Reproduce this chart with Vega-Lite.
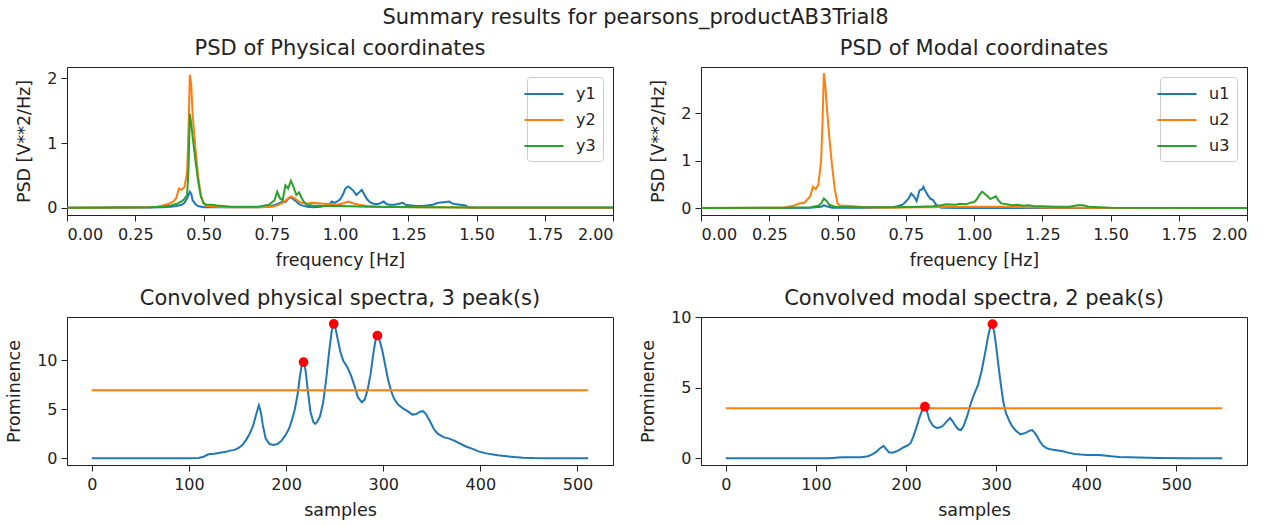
{
  "$schema": "https://vega.github.io/schema/vega-lite/v6.json",
  "background": "white",
  "padding": {"left": 5, "top": 7, "right": 5, "bottom": 5},
  "title": {"text": "Summary results for pearsons_productAB3Trial8", "fontSize": 21, "fontWeight": "normal", "anchor": "middle", "color": "#222", "offset": 9.5, "dx": 9},
  "config": {
    "font": "DejaVu Sans",
    "view": {"stroke": "#222", "strokeWidth": 1},
    "axis": {"grid": false, "domainColor": "#222", "tickColor": "#222", "labelColor": "#222", "titleColor": "#222", "labelFontSize": 16, "titleFontSize": 17.5, "titleFontWeight": "normal", "tickSize": 6, "labelPadding": 4, "labelFont": "DejaVu Sans", "titleFont": "DejaVu Sans"},
    "axisX": {"titlePadding": 9, "labelPadding": 5},
    "axisY": {"titlePadding": 13},
    "title": {"fontSize": 21, "fontWeight": "normal", "color": "#222", "font": "DejaVu Sans", "offset": 8},
    "legend": {"orient": "top-right", "offset": 10, "padding": 7, "strokeColor": "#cccccc", "fillColor": "rgba(255,255,255,0.85)", "cornerRadius": 3, "symbolType": "M-2.17,0H2.17", "symbolSize": 324, "symbolStrokeWidth": 2, "labelFontSize": 16, "labelColor": "#222", "labelOffset": 22, "rowPadding": 8, "title": null}
  },
  "datasets": {
    "phys": [
      {"c":"y1","f":0,"v":0.005},{"c":"y1","f":0.1,"v":0.005},{"c":"y1","f":0.2,"v":0.006},{"c":"y1","f":0.3,"v":0.008},{"c":"y1","f":0.35,"v":0.01},{"c":"y1","f":0.38,"v":0.02},{"c":"y1","f":0.4,"v":0.03},{"c":"y1","f":0.42,"v":0.05},{"c":"y1","f":0.43,"v":0.08},{"c":"y1","f":0.44,"v":0.15},{"c":"y1","f":0.45,"v":0.25},{"c":"y1","f":0.455,"v":0.22},{"c":"y1","f":0.46,"v":0.12},{"c":"y1","f":0.47,"v":0.06},{"c":"y1","f":0.48,"v":0.03},{"c":"y1","f":0.5,"v":0.01},{"c":"y1","f":0.55,"v":0.01},{"c":"y1","f":0.6,"v":0.01},{"c":"y1","f":0.65,"v":0.01},{"c":"y1","f":0.7,"v":0.01},{"c":"y1","f":0.74,"v":0.02},{"c":"y1","f":0.77,"v":0.06},{"c":"y1","f":0.79,"v":0.1},{"c":"y1","f":0.8,"v":0.09},{"c":"y1","f":0.81,"v":0.14},{"c":"y1","f":0.82,"v":0.17},{"c":"y1","f":0.83,"v":0.13},{"c":"y1","f":0.84,"v":0.1},{"c":"y1","f":0.85,"v":0.06},{"c":"y1","f":0.86,"v":0.04},{"c":"y1","f":0.88,"v":0.02},{"c":"y1","f":0.9,"v":0.01},{"c":"y1","f":0.93,"v":0.02},{"c":"y1","f":0.96,"v":0.05},{"c":"y1","f":0.97,"v":0.1},{"c":"y1","f":0.98,"v":0.08},{"c":"y1","f":0.99,"v":0.1},{"c":"y1","f":1.0,"v":0.13},{"c":"y1","f":1.01,"v":0.2},{"c":"y1","f":1.02,"v":0.3},{"c":"y1","f":1.03,"v":0.33},{"c":"y1","f":1.04,"v":0.3},{"c":"y1","f":1.05,"v":0.26},{"c":"y1","f":1.06,"v":0.2},{"c":"y1","f":1.07,"v":0.24},{"c":"y1","f":1.08,"v":0.28},{"c":"y1","f":1.09,"v":0.2},{"c":"y1","f":1.1,"v":0.13},{"c":"y1","f":1.11,"v":0.09},{"c":"y1","f":1.12,"v":0.07},{"c":"y1","f":1.13,"v":0.06},{"c":"y1","f":1.14,"v":0.06},{"c":"y1","f":1.16,"v":0.1},{"c":"y1","f":1.17,"v":0.06},{"c":"y1","f":1.18,"v":0.05},{"c":"y1","f":1.2,"v":0.05},{"c":"y1","f":1.22,"v":0.07},{"c":"y1","f":1.23,"v":0.08},{"c":"y1","f":1.24,"v":0.05},{"c":"y1","f":1.26,"v":0.04},{"c":"y1","f":1.28,"v":0.03},{"c":"y1","f":1.3,"v":0.03},{"c":"y1","f":1.32,"v":0.04},{"c":"y1","f":1.34,"v":0.05},{"c":"y1","f":1.36,"v":0.08},{"c":"y1","f":1.38,"v":0.09},{"c":"y1","f":1.4,"v":0.1},{"c":"y1","f":1.41,"v":0.07},{"c":"y1","f":1.42,"v":0.06},{"c":"y1","f":1.44,"v":0.05},{"c":"y1","f":1.46,"v":0.04},{"c":"y1","f":1.47,"v":0.01},{"c":"y1","f":1.5,"v":0.005},{"c":"y1","f":1.6,"v":0.004},{"c":"y1","f":1.8,"v":0.004},{"c":"y1","f":2.0,"v":0.004},
      {"c":"y2","f":0,"v":0.005},{"c":"y2","f":0.2,"v":0.006},{"c":"y2","f":0.3,"v":0.01},{"c":"y2","f":0.33,"v":0.02},{"c":"y2","f":0.35,"v":0.04},{"c":"y2","f":0.37,"v":0.06},{"c":"y2","f":0.39,"v":0.1},{"c":"y2","f":0.4,"v":0.15},{"c":"y2","f":0.41,"v":0.3},{"c":"y2","f":0.42,"v":0.28},{"c":"y2","f":0.43,"v":0.32},{"c":"y2","f":0.44,"v":0.55},{"c":"y2","f":0.445,"v":1.2},{"c":"y2","f":0.45,"v":2.05},{"c":"y2","f":0.455,"v":1.9},{"c":"y2","f":0.46,"v":1.45},{"c":"y2","f":0.47,"v":0.95},{"c":"y2","f":0.48,"v":0.5},{"c":"y2","f":0.49,"v":0.2},{"c":"y2","f":0.5,"v":0.07},{"c":"y2","f":0.51,"v":0.03},{"c":"y2","f":0.55,"v":0.02},{"c":"y2","f":0.6,"v":0.01},{"c":"y2","f":0.65,"v":0.01},{"c":"y2","f":0.7,"v":0.01},{"c":"y2","f":0.75,"v":0.02},{"c":"y2","f":0.77,"v":0.04},{"c":"y2","f":0.79,"v":0.08},{"c":"y2","f":0.8,"v":0.11},{"c":"y2","f":0.81,"v":0.15},{"c":"y2","f":0.82,"v":0.18},{"c":"y2","f":0.83,"v":0.16},{"c":"y2","f":0.84,"v":0.13},{"c":"y2","f":0.85,"v":0.1},{"c":"y2","f":0.86,"v":0.08},{"c":"y2","f":0.88,"v":0.07},{"c":"y2","f":0.9,"v":0.08},{"c":"y2","f":0.93,"v":0.07},{"c":"y2","f":0.96,"v":0.06},{"c":"y2","f":0.99,"v":0.05},{"c":"y2","f":1.01,"v":0.07},{"c":"y2","f":1.03,"v":0.1},{"c":"y2","f":1.05,"v":0.07},{"c":"y2","f":1.07,"v":0.05},{"c":"y2","f":1.1,"v":0.03},{"c":"y2","f":1.15,"v":0.02},{"c":"y2","f":1.2,"v":0.015},{"c":"y2","f":1.3,"v":0.01},{"c":"y2","f":1.4,"v":0.01},{"c":"y2","f":1.5,"v":0.005},{"c":"y2","f":2.0,"v":0.004},
      {"c":"y3","f":0,"v":0.005},{"c":"y3","f":0.2,"v":0.006},{"c":"y3","f":0.3,"v":0.01},{"c":"y3","f":0.35,"v":0.02},{"c":"y3","f":0.38,"v":0.04},{"c":"y3","f":0.4,"v":0.06},{"c":"y3","f":0.42,"v":0.1},{"c":"y3","f":0.43,"v":0.14},{"c":"y3","f":0.44,"v":0.2},{"c":"y3","f":0.445,"v":0.6},{"c":"y3","f":0.45,"v":1.45},{"c":"y3","f":0.455,"v":1.3},{"c":"y3","f":0.46,"v":1.1},{"c":"y3","f":0.47,"v":0.75},{"c":"y3","f":0.48,"v":0.42},{"c":"y3","f":0.49,"v":0.18},{"c":"y3","f":0.5,"v":0.08},{"c":"y3","f":0.51,"v":0.05},{"c":"y3","f":0.53,"v":0.05},{"c":"y3","f":0.55,"v":0.04},{"c":"y3","f":0.6,"v":0.02},{"c":"y3","f":0.65,"v":0.02},{"c":"y3","f":0.7,"v":0.02},{"c":"y3","f":0.74,"v":0.05},{"c":"y3","f":0.76,"v":0.12},{"c":"y3","f":0.77,"v":0.25},{"c":"y3","f":0.78,"v":0.15},{"c":"y3","f":0.79,"v":0.12},{"c":"y3","f":0.8,"v":0.35},{"c":"y3","f":0.81,"v":0.3},{"c":"y3","f":0.82,"v":0.42},{"c":"y3","f":0.83,"v":0.32},{"c":"y3","f":0.84,"v":0.2},{"c":"y3","f":0.85,"v":0.24},{"c":"y3","f":0.86,"v":0.15},{"c":"y3","f":0.87,"v":0.08},{"c":"y3","f":0.88,"v":0.05},{"c":"y3","f":0.9,"v":0.04},{"c":"y3","f":0.95,"v":0.03},{"c":"y3","f":1.0,"v":0.03},{"c":"y3","f":1.1,"v":0.02},{"c":"y3","f":1.2,"v":0.015},{"c":"y3","f":1.3,"v":0.01},{"c":"y3","f":1.5,"v":0.008},{"c":"y3","f":2.0,"v":0.006}
    ],
    "modal": [
      {"c":"u1","f":0,"v":0.005},{"c":"u1","f":0.3,"v":0.005},{"c":"u1","f":0.4,"v":0.01},{"c":"u1","f":0.44,"v":0.03},{"c":"u1","f":0.45,"v":0.06},{"c":"u1","f":0.46,"v":0.04},{"c":"u1","f":0.48,"v":0.01},{"c":"u1","f":0.6,"v":0.01},{"c":"u1","f":0.7,"v":0.02},{"c":"u1","f":0.72,"v":0.04},{"c":"u1","f":0.74,"v":0.08},{"c":"u1","f":0.76,"v":0.2},{"c":"u1","f":0.77,"v":0.31},{"c":"u1","f":0.78,"v":0.25},{"c":"u1","f":0.79,"v":0.15},{"c":"u1","f":0.8,"v":0.37},{"c":"u1","f":0.81,"v":0.4},{"c":"u1","f":0.815,"v":0.45},{"c":"u1","f":0.82,"v":0.38},{"c":"u1","f":0.83,"v":0.28},{"c":"u1","f":0.84,"v":0.2},{"c":"u1","f":0.85,"v":0.17},{"c":"u1","f":0.86,"v":0.08},{"c":"u1","f":0.87,"v":0.03},{"c":"u1","f":0.88,"v":0.01},{"c":"u1","f":0.95,"v":0.005},{"c":"u1","f":2.0,"v":0.004},
      {"c":"u2","f":0,"v":0.005},{"c":"u2","f":0.3,"v":0.01},{"c":"u2","f":0.32,"v":0.03},{"c":"u2","f":0.34,"v":0.05},{"c":"u2","f":0.36,"v":0.1},{"c":"u2","f":0.38,"v":0.12},{"c":"u2","f":0.4,"v":0.25},{"c":"u2","f":0.41,"v":0.45},{"c":"u2","f":0.42,"v":0.4},{"c":"u2","f":0.43,"v":0.5},{"c":"u2","f":0.44,"v":1.0},{"c":"u2","f":0.445,"v":1.8},{"c":"u2","f":0.45,"v":2.85},{"c":"u2","f":0.455,"v":2.6},{"c":"u2","f":0.46,"v":2.2},{"c":"u2","f":0.47,"v":1.5},{"c":"u2","f":0.48,"v":0.9},{"c":"u2","f":0.49,"v":0.4},{"c":"u2","f":0.5,"v":0.1},{"c":"u2","f":0.51,"v":0.05},{"c":"u2","f":0.53,"v":0.05},{"c":"u2","f":0.56,"v":0.04},{"c":"u2","f":0.6,"v":0.02},{"c":"u2","f":0.7,"v":0.01},{"c":"u2","f":0.8,"v":0.02},{"c":"u2","f":0.85,"v":0.02},{"c":"u2","f":0.9,"v":0.03},{"c":"u2","f":1.0,"v":0.03},{"c":"u2","f":1.1,"v":0.03},{"c":"u2","f":1.2,"v":0.02},{"c":"u2","f":1.3,"v":0.01},{"c":"u2","f":1.4,"v":0.01},{"c":"u2","f":1.5,"v":0.005},{"c":"u2","f":2.0,"v":0.004},
      {"c":"u3","f":0,"v":0.005},{"c":"u3","f":0.3,"v":0.006},{"c":"u3","f":0.4,"v":0.02},{"c":"u3","f":0.43,"v":0.05},{"c":"u3","f":0.44,"v":0.1},{"c":"u3","f":0.45,"v":0.2},{"c":"u3","f":0.46,"v":0.15},{"c":"u3","f":0.47,"v":0.07},{"c":"u3","f":0.49,"v":0.03},{"c":"u3","f":0.55,"v":0.02},{"c":"u3","f":0.7,"v":0.02},{"c":"u3","f":0.8,"v":0.03},{"c":"u3","f":0.85,"v":0.04},{"c":"u3","f":0.88,"v":0.06},{"c":"u3","f":0.9,"v":0.08},{"c":"u3","f":0.93,"v":0.07},{"c":"u3","f":0.95,"v":0.09},{"c":"u3","f":0.97,"v":0.08},{"c":"u3","f":0.99,"v":0.12},{"c":"u3","f":1.0,"v":0.13},{"c":"u3","f":1.01,"v":0.18},{"c":"u3","f":1.02,"v":0.28},{"c":"u3","f":1.03,"v":0.35},{"c":"u3","f":1.04,"v":0.3},{"c":"u3","f":1.05,"v":0.25},{"c":"u3","f":1.06,"v":0.19},{"c":"u3","f":1.07,"v":0.22},{"c":"u3","f":1.08,"v":0.25},{"c":"u3","f":1.09,"v":0.16},{"c":"u3","f":1.1,"v":0.1},{"c":"u3","f":1.12,"v":0.08},{"c":"u3","f":1.14,"v":0.06},{"c":"u3","f":1.16,"v":0.07},{"c":"u3","f":1.18,"v":0.05},{"c":"u3","f":1.2,"v":0.06},{"c":"u3","f":1.22,"v":0.04},{"c":"u3","f":1.25,"v":0.04},{"c":"u3","f":1.3,"v":0.03},{"c":"u3","f":1.35,"v":0.03},{"c":"u3","f":1.38,"v":0.06},{"c":"u3","f":1.4,"v":0.06},{"c":"u3","f":1.42,"v":0.03},{"c":"u3","f":1.5,"v":0.01},{"c":"u3","f":2.0,"v":0.005}
    ],
    "convp": [
      {"s":0,"v":0},{"s":50,"v":0},{"s":100,"v":0},{"s":110,"v":0.02},{"s":115,"v":0.15},{"s":120,"v":0.4},{"s":126,"v":0.45},{"s":132,"v":0.55},{"s":138,"v":0.65},{"s":141,"v":0.75},{"s":147,"v":0.85},{"s":151,"v":1.05},{"s":155,"v":1.35},{"s":159,"v":1.9},{"s":162,"v":2.4},{"s":166,"v":3.3},{"s":169,"v":4.4},{"s":172,"v":5.4},{"s":174,"v":4.7},{"s":176,"v":3.4},{"s":179,"v":2.0},{"s":183,"v":1.45},{"s":187,"v":1.35},{"s":191,"v":1.45},{"s":195,"v":1.75},{"s":199,"v":2.3},{"s":203,"v":3.0},{"s":206,"v":3.9},{"s":209,"v":5.0},{"s":212,"v":6.6},{"s":214,"v":8.2},{"s":216,"v":9.4},{"s":218,"v":9.8},{"s":220,"v":9.0},{"s":222,"v":7.2},{"s":225,"v":4.8},{"s":228,"v":3.7},{"s":230,"v":3.5},{"s":232,"v":3.7},{"s":235,"v":4.3},{"s":238,"v":5.6},{"s":241,"v":7.8},{"s":244,"v":10.6},{"s":247,"v":13.0},{"s":249,"v":13.7},{"s":251,"v":13.2},{"s":253,"v":12.2},{"s":256,"v":10.8},{"s":259,"v":9.9},{"s":263,"v":9.3},{"s":267,"v":8.4},{"s":271,"v":7.2},{"s":274,"v":6.2},{"s":278,"v":5.7},{"s":281,"v":6.0},{"s":284,"v":7.0},{"s":287,"v":8.6},{"s":290,"v":10.8},{"s":292,"v":12.0},{"s":294,"v":12.5},{"s":296,"v":12.1},{"s":299,"v":11.0},{"s":302,"v":9.5},{"s":305,"v":8.0},{"s":308,"v":6.9},{"s":311,"v":6.1},{"s":315,"v":5.5},{"s":320,"v":5.1},{"s":325,"v":4.8},{"s":330,"v":4.45},{"s":334,"v":4.5},{"s":338,"v":4.75},{"s":341,"v":4.8},{"s":344,"v":4.5},{"s":348,"v":3.8},{"s":352,"v":3.0},{"s":356,"v":2.5},{"s":362,"v":2.15},{"s":368,"v":2.0},{"s":373,"v":1.8},{"s":380,"v":1.45},{"s":385,"v":1.2},{"s":392,"v":0.95},{"s":398,"v":0.7},{"s":405,"v":0.52},{"s":410,"v":0.42},{"s":418,"v":0.3},{"s":427,"v":0.2},{"s":435,"v":0.12},{"s":444,"v":0.06},{"s":455,"v":0.02},{"s":470,"v":0.01},{"s":490,"v":0},{"s":511,"v":0}
    ],
    "convm": [
      {"s":0,"v":0},{"s":60,"v":0},{"s":115,"v":0},{"s":125,"v":0.06},{"s":130,"v":0.08},{"s":140,"v":0.07},{"s":150,"v":0.08},{"s":158,"v":0.15},{"s":163,"v":0.3},{"s":167,"v":0.45},{"s":171,"v":0.7},{"s":175,"v":0.88},{"s":178,"v":0.65},{"s":181,"v":0.43},{"s":185,"v":0.4},{"s":189,"v":0.48},{"s":194,"v":0.65},{"s":198,"v":0.8},{"s":202,"v":0.92},{"s":205,"v":1.07},{"s":208,"v":1.5},{"s":212,"v":2.26},{"s":215,"v":2.9},{"s":218,"v":3.4},{"s":221,"v":3.65},{"s":223,"v":3.4},{"s":226,"v":2.7},{"s":230,"v":2.3},{"s":234,"v":2.15},{"s":238,"v":2.2},{"s":241,"v":2.3},{"s":245,"v":2.6},{"s":249,"v":2.85},{"s":252,"v":2.6},{"s":255,"v":2.3},{"s":258,"v":2.05},{"s":261,"v":2.0},{"s":264,"v":2.3},{"s":268,"v":3.0},{"s":272,"v":3.9},{"s":276,"v":4.6},{"s":280,"v":5.2},{"s":284,"v":6.2},{"s":288,"v":7.5},{"s":291,"v":8.6},{"s":294,"v":9.4},{"s":296,"v":9.5},{"s":298,"v":8.9},{"s":300,"v":8.0},{"s":302,"v":6.9},{"s":305,"v":5.35},{"s":308,"v":4.0},{"s":311,"v":3.2},{"s":315,"v":2.6},{"s":318,"v":2.26},{"s":322,"v":1.95},{"s":327,"v":1.7},{"s":333,"v":1.8},{"s":337,"v":1.95},{"s":340,"v":2.0},{"s":343,"v":1.8},{"s":346,"v":1.5},{"s":349,"v":1.15},{"s":352,"v":0.9},{"s":356,"v":0.72},{"s":360,"v":0.64},{"s":367,"v":0.57},{"s":374,"v":0.5},{"s":380,"v":0.4},{"s":387,"v":0.31},{"s":394,"v":0.27},{"s":401,"v":0.24},{"s":408,"v":0.23},{"s":414,"v":0.24},{"s":420,"v":0.2},{"s":428,"v":0.14},{"s":437,"v":0.1},{"s":448,"v":0.07},{"s":459,"v":0.05},{"s":480,"v":0.02},{"s":510,"v":0.01},{"s":551,"v":0}
    ],
    "thrp": [{"s":0,"t":6.93},{"s":511,"t":6.93}],
    "thrm": [{"s":0,"t":3.55},{"s":551,"t":3.55}],
    "pkp": [{"s":218,"v":9.8},{"s":249,"v":13.7},{"s":294,"v":12.5}],
    "pkm": [{"s":221,"v":3.65},{"s":296,"v":9.5}]
  },
  "columns": 2,
  "spacing": {"row": 102, "column": 88},
  "bounds": "flush",
  "resolve": {"scale": {"color": "independent"}, "legend": {"color": "independent"}},
  "concat": [
    {
      "width": 546, "height": 148,
      "title": "PSD of Physical coordinates",
      "data": {"name": "phys"},
      "mark": {"type": "line", "strokeWidth": 2, "clip": true},
      "encoding": {
        "x": {"field": "f", "type": "quantitative", "scale": {"domain": [0, 2], "nice": false, "zero": false}, "axis": {"title": "frequency [Hz]", "values": [0, 0.25, 0.5, 0.75, 1, 1.25, 1.5, 1.75, 2], "format": ".2f"}},
        "y": {"field": "v", "type": "quantitative", "scale": {"domain": [-0.108, 2.17], "nice": false, "zero": false}, "axis": {"title": "PSD [V**2/Hz]", "values": [0, 1, 2]}},
        "color": {"field": "c", "type": "nominal", "scale": {"domain": ["y1", "y2", "y3"], "range": ["#1f77b4", "#ff7f0e", "#2ca02c"]}, "legend": {"title": null}}
      }
    },
    {
      "width": 546, "height": 148,
      "title": "PSD of Modal coordinates",
      "data": {"name": "modal"},
      "mark": {"type": "line", "strokeWidth": 2, "clip": true},
      "encoding": {
        "x": {"field": "f", "type": "quantitative", "scale": {"domain": [0, 2], "nice": false, "zero": false}, "axis": {"title": "frequency [Hz]", "values": [0, 0.25, 0.5, 0.75, 1, 1.25, 1.5, 1.75, 2], "format": ".2f"}},
        "y": {"field": "v", "type": "quantitative", "scale": {"domain": [-0.145, 2.98], "nice": false, "zero": false}, "axis": {"title": "PSD [V**2/Hz]", "values": [0, 1, 2]}},
        "color": {"field": "c", "type": "nominal", "scale": {"domain": ["u1", "u2", "u3"], "range": ["#1f77b4", "#ff7f0e", "#2ca02c"]}, "legend": {"title": null}}
      }
    },
    {
      "width": 546, "height": 148,
      "title": "Convolved physical spectra, 3 peak(s)",
      "encoding": {
        "x": {"field": "s", "type": "quantitative", "scale": {"domain": [-25.55, 536.55], "nice": false, "zero": false}, "axis": {"title": "samples", "values": [0, 100, 200, 300, 400, 500]}},
        "y": {"field": "v", "type": "quantitative", "scale": {"domain": [-0.69, 14.4], "nice": false, "zero": false}, "axis": {"title": "Prominence", "values": [0, 5, 10]}}
      },
      "layer": [
        {"data": {"name": "convp"}, "mark": {"type": "line", "strokeWidth": 2, "color": "#1f77b4"}},
        {"data": {"name": "thrp"}, "mark": {"type": "line", "strokeWidth": 2, "color": "#ff7f0e"}, "encoding": {"y": {"field": "t", "type": "quantitative"}}},
        {"data": {"name": "pkp"}, "mark": {"type": "circle", "size": 95, "color": "#ff0000", "opacity": 1}}
      ]
    },
    {
      "width": 546, "height": 148,
      "title": {"text": "Convolved modal spectra, 2 peak(s)", "offset": 0},
      "encoding": {
        "x": {"field": "s", "type": "quantitative", "scale": {"domain": [-27.55, 578.55], "nice": false, "zero": false}, "axis": {"title": "samples", "values": [0, 100, 200, 300, 400, 500]}},
        "y": {"field": "v", "type": "quantitative", "scale": {"domain": [-0.475, 10.005], "nice": false, "zero": false}, "axis": {"title": "Prominence", "values": [0, 5, 10]}}
      },
      "layer": [
        {"data": {"name": "convm"}, "mark": {"type": "line", "strokeWidth": 2, "color": "#1f77b4"}},
        {"data": {"name": "thrm"}, "mark": {"type": "line", "strokeWidth": 2, "color": "#ff7f0e"}, "encoding": {"y": {"field": "t", "type": "quantitative"}}},
        {"data": {"name": "pkm"}, "mark": {"type": "circle", "size": 95, "color": "#ff0000", "opacity": 1}}
      ]
    }
  ]
}
